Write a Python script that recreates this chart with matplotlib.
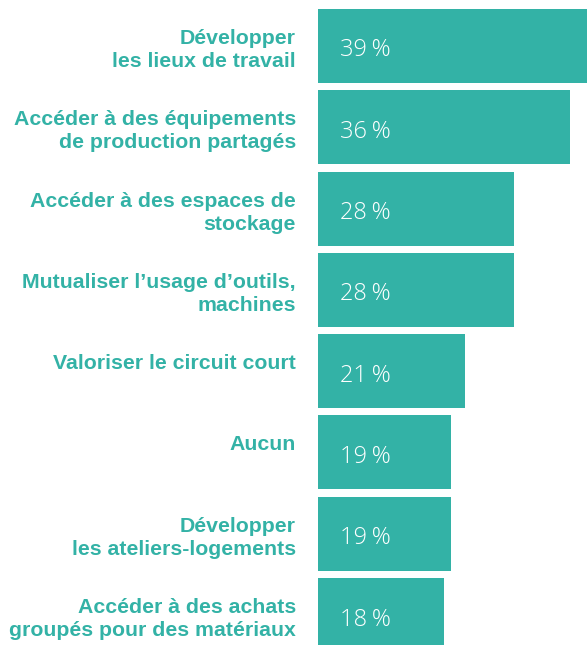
import matplotlib
matplotlib.use("Agg")
import matplotlib.pyplot as plt

categories = [
    "Développer\nles lieux de travail",
    "Accéder à des équipements\nde production partagés",
    "Accéder à des espaces de\nstockage",
    "Mutualiser l’usage d’outils,\nmachines",
    "Valoriser le circuit court",
    "Aucun",
    "Développer\nles ateliers-logements",
    "Accéder à des achats\ngroupés pour des matériaux",
]
values = [39, 36, 28, 28, 21, 19, 19, 18]

TEAL = "#33B2A6"
W, H = 587, 645
DPI = 100
fig = plt.figure(figsize=(W / DPI, H / DPI), dpi=DPI)
ax = fig.add_axes([318 / W, 0, 1 - 318 / W, 1])

pitch = 81.29
bar_h_px = 74
bh = bar_h_px / pitch
ax.barh(range(len(values)), values, height=bh, color=TEAL, linewidth=0)
ax.set_xlim(0, (W - 318) / 7.0)
ax.set_ylim((H - 46) / pitch, -46 / pitch)
ax.axis("off")

px2pt = 72 / DPI
for i, (lab, v) in enumerate(zip(categories, values)):
    top = i - bh / 2
    for j, line in enumerate(lab.split("\n")):
        ax.annotate(line, xy=(0, top), xycoords="data",
                    xytext=(-22 * px2pt, -(35 + j * 23) * px2pt),
                    textcoords="offset points", ha="right", va="baseline",
                    fontsize=15.3, fontweight="bold", color=TEAL,
                    family=["Liberation Sans", "DejaVu Sans"],
                    annotation_clip=False)
    ax.annotate(f"{v}\u2009%", xy=(0, i), xycoords="data",
                xytext=(22 * px2pt, -10.5 * px2pt), textcoords="offset points",
                ha="left", va="baseline", fontsize=17, fontweight="light",
                color="white", family=["Open Sans", "DejaVu Sans"],
                annotation_clip=False)

fig.savefig("out.png", dpi=DPI)
